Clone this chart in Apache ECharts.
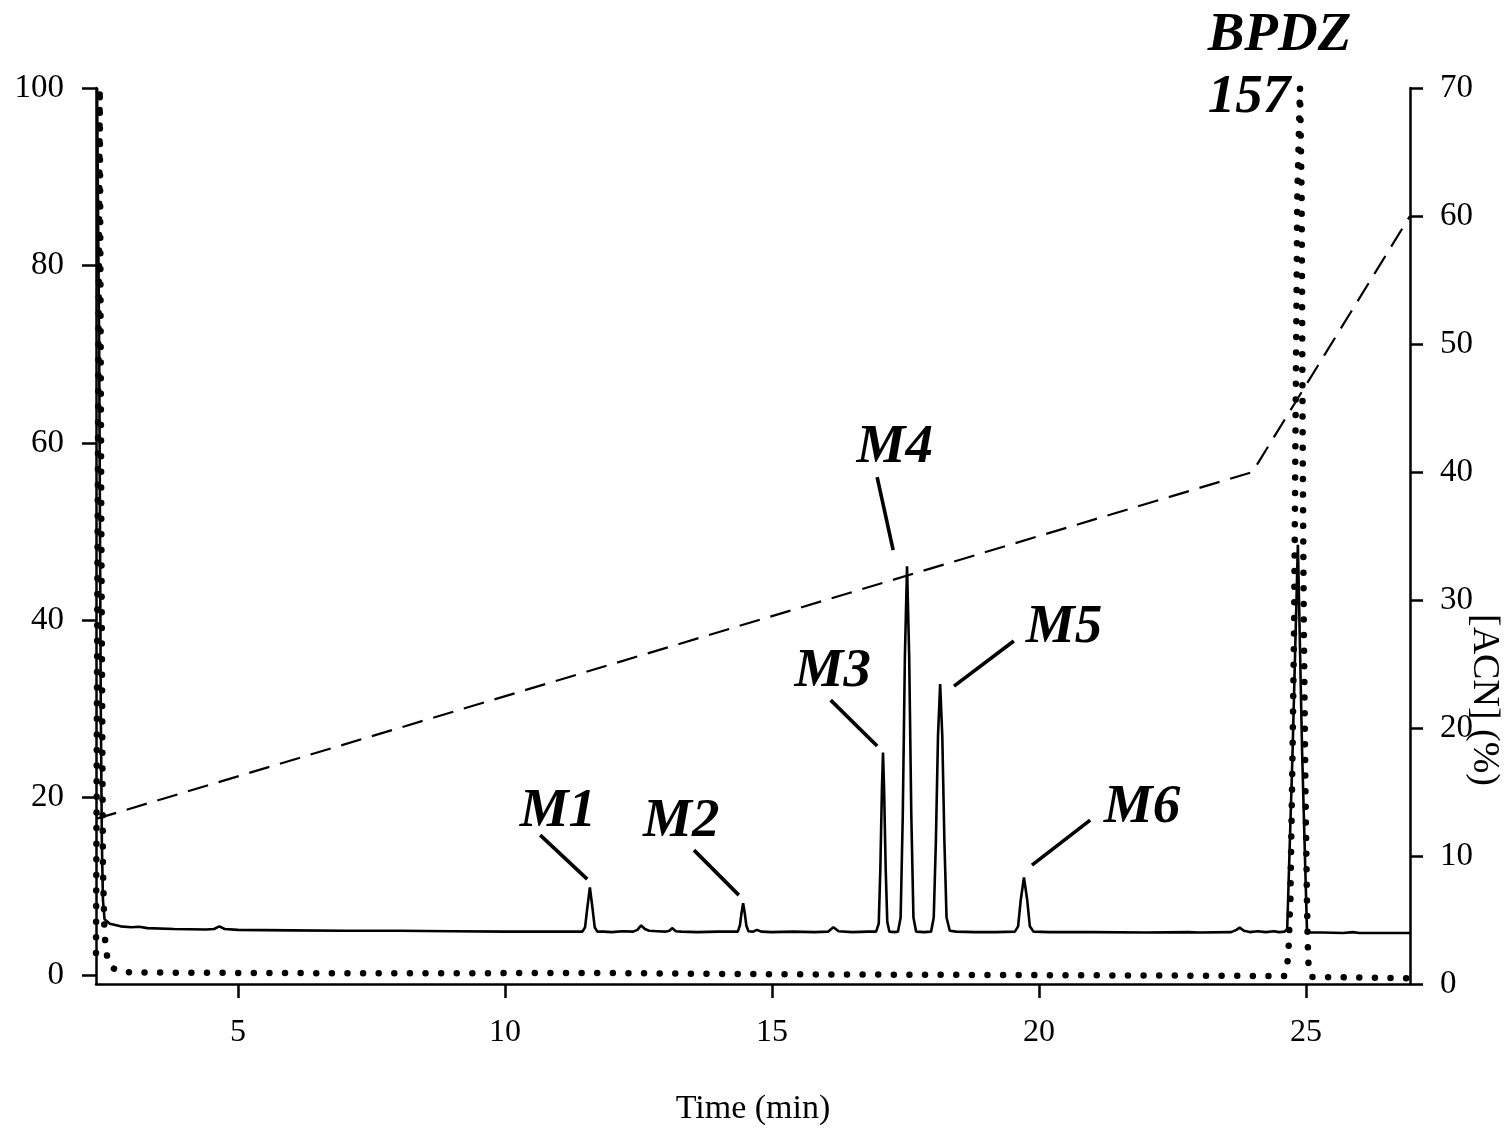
<!DOCTYPE html>
<html>
<head>
<meta charset="utf-8">
<script src="https://cdn.jsdelivr.net/npm/echarts@6/dist/echarts.min.js"></script>
<style>
html,body{margin:0;padding:0;background:#fff;overflow:hidden;}
#chart{width:1509px;height:1128px;}
</style>
</head>
<body>
<div id="chart"></div>
<script>
// ---- Data (time in min, intensity on left axis, [ACN] % on right axis) ----
const xTicks = [5, 10, 15, 20, 25];
const yLeftTicks = [0, 20, 40, 60, 80, 100];

// Solid chromatogram trace
const solidTime = [2.36, 2.40, 2.43, 2.45, 2.47, 2.50, 2.60, 2.80, 3.00, 3.15, 3.30, 3.80, 4.40, 4.55, 4.65, 4.75, 5.00, 6.00, 7.00, 8.00, 9.00, 10.00, 11.00, 11.45, 11.50, 11.54, 11.59, 11.64, 11.68, 11.73, 11.85, 12.00, 12.20, 12.40, 12.48, 12.55, 12.62, 12.70, 12.85, 13.00, 13.08, 13.13, 13.20, 13.30, 13.60, 14.00, 14.36, 14.40, 14.43, 14.46, 14.49, 14.52, 14.56, 14.65, 14.72, 14.80, 15.00, 15.40, 15.80, 16.05, 16.15, 16.25, 16.50, 16.80, 16.95, 17.00, 17.03, 17.06, 17.08, 17.10, 17.13, 17.16, 17.20, 17.30, 17.36, 17.41, 17.45, 17.49, 17.53, 17.57, 17.61, 17.65, 17.70, 17.85, 17.98, 18.03, 18.07, 18.11, 18.15, 18.19, 18.23, 18.27, 18.33, 18.45, 18.80, 19.20, 19.55, 19.61, 19.66, 19.72, 19.78, 19.83, 19.90, 20.20, 21.00, 22.00, 22.80, 23.00, 23.60, 23.70, 23.76, 23.84, 23.95, 24.10, 24.25, 24.40, 24.50, 24.60, 24.65, 24.75, 24.85, 24.93, 25.02, 25.06, 25.30, 25.70, 25.88, 26.00, 26.50, 26.95];
const solidValue = [100, 70, 30, 15, 8.5, 6.3, 5.8, 5.5, 5.4, 5.45, 5.3, 5.2, 5.15, 5.2, 5.5, 5.2, 5.1, 5.05, 5.0, 5.0, 4.95, 4.9, 4.9, 4.9, 5.4, 7.5, 9.9, 7.5, 5.4, 4.9, 4.9, 4.85, 4.95, 4.9, 5.1, 5.6, 5.2, 5.0, 4.95, 4.9, 5.0, 5.3, 4.95, 4.9, 4.85, 4.9, 4.9, 5.6, 7.0, 8.1, 7.0, 5.6, 4.95, 4.9, 5.1, 4.9, 4.85, 4.9, 4.85, 4.9, 5.4, 4.95, 4.85, 4.9, 4.9, 5.8, 12, 21, 25.1, 21, 12, 6.0, 4.9, 4.85, 4.9, 6.5, 18, 36, 46.1, 36, 18, 6.5, 4.9, 4.85, 4.9, 6.5, 15, 27, 32.8, 27, 15, 6.5, 5.0, 4.9, 4.85, 4.85, 4.9, 5.5, 8.5, 11.0, 8.5, 5.5, 4.9, 4.85, 4.85, 4.8, 4.85, 4.8, 4.85, 5.1, 5.35, 5.0, 4.85, 4.95, 4.85, 4.95, 4.85, 4.9, 5.2, 25, 48.5, 25, 5.2, 4.8, 4.8, 4.75, 4.85, 4.75, 4.75, 4.75];

// Dotted trace (BPDZ 157)
const dotTime = [2.34, 2.37, 2.41, 2.44, 2.47, 2.50, 2.55, 2.62, 2.75, 3.00, 5.00, 8.00, 11.60, 15.00, 20.00, 24.60, 24.65, 24.68, 24.71, 24.75, 24.78, 24.81, 24.84, 24.89, 24.92, 24.94, 24.96, 24.99, 25.02, 25.035, 25.05, 25.10, 26.95];
const dotValue = [2.5, 50, 100, 50, 12, 4.5, 2.0, 0.9, 0.5, 0.3, 0.25, 0.2, 0.25, 0.1, 0.0, -0.1, 1.0, 3.5, 8.5, 25, 40, 65, 88, 100, 88, 60, 40, 22, 8.5, 3.5, 1.0, -0.2, -0.35];

// Acetonitrile gradient (right axis)
const acnTime = [2.34, 24.0, 26.95];
const acnValue = [12.9, 40, 60];

// Peak annotations
const labelNames = ['M1', 'M2', 'M3', 'M4', 'M5', 'M6', 'BPDZ\n157'];
const labelTime = [10.99, 13.30, 16.14, 17.30, 20.47, 21.93, 23.16];
const labelValue = [18.38, 17.25, 34.16, 59.41, 39.12, 18.83, 102.4];

// Leader lines: [t1, v1, t2, v2]
const leaderLines = [
  [10.66, 15.78, 11.54, 10.82],
  [13.54, 14.09, 14.38, 9.02],
  [16.10, 31.00, 16.97, 25.82],
  [16.97, 56.14, 17.27, 47.91],
  [19.53, 37.66, 18.41, 32.58],
  [20.96, 17.47, 19.87, 12.40]
];

// ---- Chart ----
const FONT = '"Liberation Serif", "Times New Roman", serif';
const zip = (a, b) => a.map((v, i) => [v, b[i]]);

const chart = echarts.init(document.getElementById('chart'), null, {renderer: 'canvas'});
chart.setOption({
  animation: false,
  backgroundColor: '#fff',
  textStyle: {fontFamily: FONT, color: '#000'},
  grid: {left: 96, right: 99, top: 88, bottom: 144, containLabel: false, outerBoundsMode: 'none'},
  xAxis: {
    type: 'value', min: 2.34, max: 26.95,
    name: 'Time (min)', nameLocation: 'middle', nameGap: 108,
    nameTextStyle: {fontFamily: FONT, fontSize: 34, color: '#000'},
    axisLine: {show: true, onZero: false, lineStyle: {color: '#000', width: 2.5}},
    axisTick: {show: true, inside: false, length: 14, lineStyle: {color: '#000', width: 2.5}, customValues: xTicks},
    axisLabel: {show: true, margin: 33, fontFamily: FONT, fontSize: 32, color: '#000', customValues: xTicks},
    splitLine: {show: false}
  },
  yAxis: [
    {
      type: 'value', min: -1, max: 100, position: 'left',
      axisLine: {show: true, onZero: false, lineStyle: {color: '#000', width: 2.5}},
      axisTick: {show: true, inside: false, length: 14, lineStyle: {color: '#000', width: 2.5}, customValues: yLeftTicks},
      axisLabel: {show: true, margin: 32, fontFamily: FONT, fontSize: 33, color: '#000', customValues: yLeftTicks},
      splitLine: {show: false}
    },
    {
      type: 'value', min: 0, max: 70, interval: 10, position: 'right',
      name: '[ACN] (%)', nameLocation: 'middle', nameRotate: -90, nameGap: 55,
      nameMoveOverlap: false,
      nameTextStyle: {fontFamily: FONT, fontSize: 38, color: '#000', padding: [0, 0, 0, 328]},
      axisLine: {show: true, onZero: false, lineStyle: {color: '#000', width: 2.5}},
      axisTick: {show: true, inside: false, length: 13, lineStyle: {color: '#000', width: 2.5}},
      axisLabel: {show: true, margin: 30, fontFamily: FONT, fontSize: 33, color: '#000'},
      splitLine: {show: false}
    }
  ],
  series: [
    {
      name: 'ACN', type: 'line', yAxisIndex: 1, showSymbol: false, symbol: 'none',
      data: zip(acnTime, acnValue),
      lineStyle: {color: '#000', width: 2.2, type: [21, 11]},
      z: 2
    },
    {
      name: 'BPDZ 157', type: 'line', yAxisIndex: 0, showSymbol: false, symbol: 'none',
      data: zip(dotTime, dotValue),
      lineStyle: {color: '#000', width: 6.5, type: [0.01, 15.6], cap: 'round'},
      clip: true,
      z: 3
    },
    {
      name: 'trace', type: 'line', yAxisIndex: 0, showSymbol: false, symbol: 'none',
      data: zip(solidTime, solidValue),
      lineStyle: {color: '#000', width: 2.6},
      z: 4,
      markLine: {
        silent: true, symbol: ['none', 'none'], animation: false,
        label: {show: false},
        lineStyle: {color: '#000', width: 3.6, type: 'solid'},
        emphasis: {disabled: true},
        data: leaderLines.map(l => [{coord: [l[0], l[1]]}, {coord: [l[2], l[3]]}])
      }
    },
    {
      name: 'labels', type: 'scatter', yAxisIndex: 0, symbolSize: 1, clip: false,
      itemStyle: {color: 'rgba(255,255,255,0)', opacity: 1},
      silent: true,
      data: labelNames.map((n, i) => ({
        value: [labelTime[i], labelValue[i]],
        name: n,
        label: n.indexOf('\n') >= 0 ? {align: 'left', lineHeight: 62} : {}
      })),
      label: {
        show: true, position: 'inside', formatter: p => p.name, opacity: 1,
        fontFamily: FONT, fontSize: 55, fontWeight: 'bold', fontStyle: 'italic', color: '#000',
        textBorderWidth: 0
      },
      z: 5
    }
  ]
});
</script>
</body>
</html>
